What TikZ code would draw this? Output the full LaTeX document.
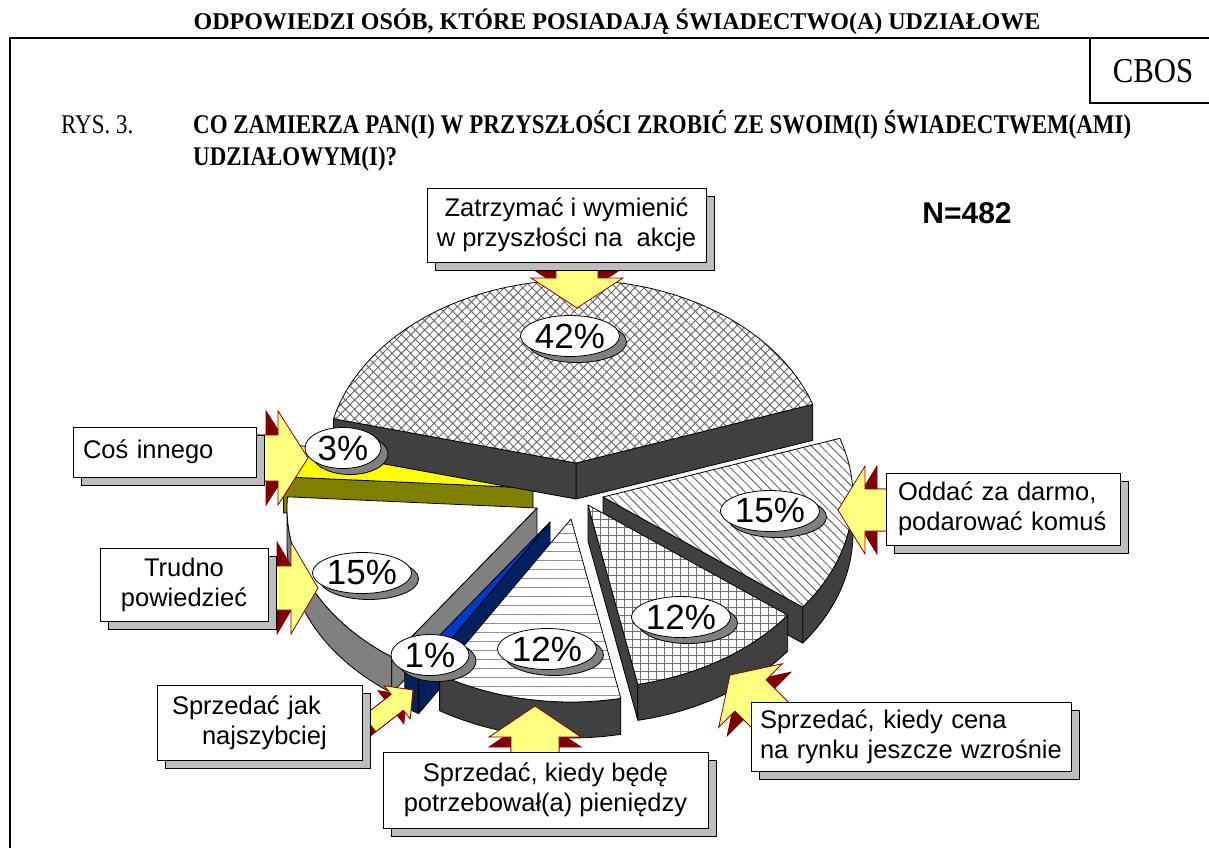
\documentclass[tikz,border=0pt]{standalone}
\usepackage{fontspec}
\setmainfont{Liberation Serif}
\newfontfamily\arialfont{Liberation Sans}
\newfontfamily\narrowserif[FakeStretch=0.85]{Liberation Serif}
\newfontfamily\narrowcbos[FakeStretch=0.88]{Liberation Serif}
\usetikzlibrary{shapes.geometric, patterns.meta}

\definecolor{wallgray}{RGB}{64,64,64}
\definecolor{patgray}{RGB}{112,112,112}
\definecolor{midgray}{RGB}{128,128,128}
\definecolor{sunyellow}{RGB}{255,255,0}
\definecolor{olivewall}{RGB}{128,128,0}
\definecolor{royal}{RGB}{0,56,200}
\definecolor{navyface}{RGB}{0,32,96}
\definecolor{paleyellow}{RGB}{255,255,128}
\definecolor{arrowred}{RGB}{128,0,0}
\definecolor{boxshade}{RGB}{190,190,190}

% pie geometry (pixels)
\def\rx{250}
\def\ry{183}
\def\depth{36}

% top of a slice: apex x, apex y, from angle, to angle, style
\newcommand{\pietop}[5]{%
  \path[#5] (#1,#2) -- plot[domain=#3:#4, samples=50, variable=\t] ({#1+\rx*cos(\t)},{#2-\ry*sin(\t)}) -- cycle;}
% outer wall of a slice
\newcommand{\pierim}[5]{%
  \path[#5] plot[domain=#3:#4, samples=50, variable=\t] ({#1+\rx*cos(\t)},{#2-\ry*sin(\t)})
    -- plot[domain=#4:#3, samples=50, variable=\t] ({#1+\rx*cos(\t)},{#2+\depth-\ry*sin(\t)}) -- cycle;}
% cut face of a slice: apex x, apex y, angle, style
\newcommand{\pieface}[4]{%
  \path[#4] (#1,#2) -- ({#1+\rx*cos(#3)},{#2-\ry*sin(#3)}) -- ++(0,\depth) -- (#1,{#2+\depth}) -- cycle;}
% 3D block arrow: tip, angle, head length, head half width, shaft half width, length, depth
\newcommand{\blockarrow}[7]{%
  \begin{scope}[shift={#1}, rotate=#2]
    \filldraw[fill=arrowred, draw=arrowred, line width=0.8pt] (-#7,0) -- (-#3-#7,#4) -- (-#3-#7,#5) -- (-#6-#7,#5)
      -- (-#6-#7,-#5) -- (-#3-#7,-#5) -- (-#3-#7,-#4) -- cycle;
    \filldraw[fill=paleyellow, draw=arrowred, line width=0.8pt] (0,0) -- (-#3,#4) -- (-#3,#5) -- (-#6,#5)
      -- (-#6,-#5) -- (-#3,-#5) -- (-#3,-#4) -- cycle;
  \end{scope}}

\begin{document}
\begin{tikzpicture}[x=1pt, y=-1pt,
  rim/.style={draw=black, line width=0.8pt, line join=round},
  crosstop/.style={rim, preaction={fill=white}, pattern={Hatch[angle=45, distance=6.6pt, line width=1pt]}, pattern color=patgray},
  stripetop/.style={rim, preaction={fill=white}, pattern={Lines[angle=-45, distance=6.6pt, line width=1pt]}, pattern color=patgray},
  gridtop/.style={rim, preaction={fill=white}, pattern={Hatch[angle=0, distance=8pt, line width=1pt]}, pattern color=patgray},
  linetop/.style={rim, preaction={fill=white}, pattern={Lines[angle=0, distance=9pt, line width=0.9pt]}, pattern color=patgray!80},
  labelbox/.style={draw, line width=0.9pt, fill=white, inner sep=0pt,
    font=\arialfont\fontsize{25.5}{30}\selectfont,
    preaction={draw, fill=boxshade, transform canvas={shift={(8pt,-8pt)}}}},
  pctlabel/.style={ellipse, draw, line width=0.8pt, fill=white, inner sep=0pt,
    minimum width=86pt, minimum height=41pt, font=\arialfont\fontsize{35}{35}\selectfont,
    preaction={draw, fill=midgray, transform canvas={shift={(7pt,-6pt)}}}}]

\useasboundingbox (0,0) rectangle (1209,848);

% frame and headings
\draw[line width=2.2pt] (10,848) -- (10,38) -- (1209,38);
\draw[line width=1.5pt] (1090,38) -- (1090,103) -- (1209,103);
\node[font=\bfseries\fontsize{24}{24}\selectfont, anchor=base] (title) at (617,30) {ODPOWIEDZI OSÓB, KTÓRE POSIADAJĄ ŚWIADECTWO(A) UDZIAŁOWE};
\node[font=\narrowcbos\fontsize{35}{35}\selectfont] (cbos) at (1153,71) {CBOS};
\node[font=\narrowserif\fontsize{27}{27}\selectfont, anchor=base west, inner sep=0pt] (rys) at (61,134) {RYS. 3.};
\node[font=\narrowserif\bfseries\fontsize{27}{27}\selectfont, anchor=base west, inner sep=0pt] (question) at (193,134) {CO ZAMIERZA PAN(I) W PRZYSZŁOŚCI ZROBIĆ ZE SWOIM(I) ŚWIADECTWEM(AMI)};
\node[font=\narrowserif\bfseries\fontsize{27}{27}\selectfont, anchor=base west, inner sep=0pt] (question2) at (193,165) {UDZIAŁOWYM(I)?};
\node[font=\arialfont\bfseries\fontsize{30}{30}\selectfont] (sample) at (967,213) {N=482};

% slices, back to front
% 3%
\pieface{533}{488}{176.5}{rim, fill=olivewall}
\pietop{533}{488}{166}{176.5}{rim, fill=sunyellow}
% 15% oddac
\pieface{603}{497}{323}{rim, fill=wallgray}
\pierim{603}{497}{323}{360}{rim, fill=wallgray}
\pietop{603}{497}{323}{378.7}{stripetop}
% 42%
\pieface{576}{463}{18.7}{rim, fill=wallgray}
\pieface{576}{463}{166}{rim, fill=wallgray}
\pietop{576}{463}{18.7}{166}{crosstop}
% 12% cena
\pieface{588}{505}{281.5}{rim, fill=wallgray}
\pierim{588}{505}{281.5}{323}{rim, fill=wallgray}
\pietop{588}{505}{281.5}{323}{gridtop}
% 15% trudno
\pierim{537}{508}{180}{234.5}{rim, fill=midgray}
\pieface{537}{508}{234.5}{rim, fill=midgray}
\pietop{537}{508}{176.5}{234.5}{rim, fill=white}
% 1%
\pierim{550}{522}{234.5}{238.3}{rim, fill=navyface}
\pieface{550}{522}{238.3}{rim, fill=navyface}
\pietop{550}{522}{234.5}{238.3}{rim, fill=royal}
% 12% bede
\pierim{571}{519}{238.3}{281.5}{rim, fill=wallgray}
\pietop{571}{519}{238.3}{281.5}{linetop}

% arrows
\blockarrow{(577,308)}{-90}{30}{46}{21}{60}{10}
\blockarrow{(308,458)}{0}{30}{47}{23}{70}{12}
\blockarrow{(318,588)}{0}{27}{46}{22}{65}{14}
\blockarrow{(413,690)}{38}{20}{21}{10}{55}{8}
\blockarrow{(535,706)}{90}{31}{46}{24}{70}{10}
\blockarrow{(730,675)}{135}{29}{45}{22}{75}{12}
\blockarrow{(838,510)}{180}{27}{44}{21}{60}{12}

% percentages
\node[pctlabel] (p42) at (570,336) {42\%};
\node[pctlabel, minimum width=76pt] (p3) at (343,448) {3\%};
\node[pctlabel, minimum width=90pt] (p15a) at (362,573) {15\%};
\node[pctlabel, minimum width=78pt] (p1) at (430,655) {1\%};
\node[pctlabel] (p12a) at (547,649) {12\%};
\node[pctlabel] (p12b) at (681,617) {12\%};
\node[pctlabel] (p15b) at (770,511) {15\%};

% answer boxes
\node[labelbox, minimum width=279pt, minimum height=74pt, align=center] (keep) at (566.5,225) {Zatrzymać i wymienić\\w przyszłości na\ \ akcje};
\node[labelbox, minimum height=50pt, inner xsep=10pt, text width=163pt, align=left] (other) at (164.5,452) {Coś innego};
\node[labelbox, minimum width=168pt, minimum height=73pt, align=center] (unsure) at (184,584.5) {Trudno\\powiedzieć};
\node[labelbox, minimum height=75pt, inner xsep=15pt, text width=175pt, align=left] (fast) at (259.5,722.5) {Sprzedać jak\\\hspace*{30pt}najszybciej};
\node[labelbox, minimum width=325pt, minimum height=76pt, align=center] (needmoney) at (545.5,790) {Sprzedać, kiedy będę\\potrzebował(a) pieniędzy};
\node[labelbox, minimum height=69pt, inner xsep=9pt, text width=302pt, align=left] (higherprice) at (911,736.5) {Sprzedać, kiedy cena\\na rynku jeszcze wzrośnie};
\node[labelbox, minimum height=72pt, inner xsep=12pt, text width=210pt, align=left] (giveaway) at (1003,509) {Oddać za darmo,\\podarować komuś};

\end{tikzpicture}
\end{document}
